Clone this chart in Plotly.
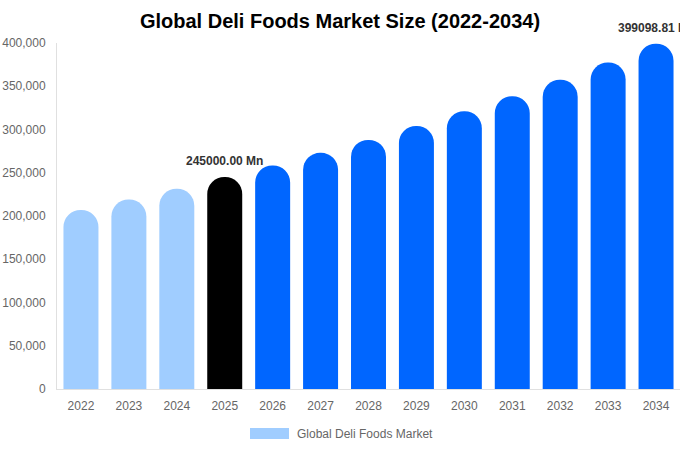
import plotly.graph_objects as go

# dati (valori in milioni)
years = ["2022", "2023", "2024", "2025", "2026", "2027", "2028",
         "2029", "2030", "2031", "2032", "2033", "2034"]
market_size = [207000, 219000, 231500, 245000, 258500, 273000, 288000,
               304000, 321000, 338500, 357500, 377500, 399098.81]
bar_colors = ["#a0cdff"] * 3 + ["#000000"] + ["#0066ff"] * 9
y_ticks = [0, 50000, 100000, 150000, 200000, 250000, 300000, 350000, 400000]

# etichette sopra le barre evidenziate
label_years = ["2025", "2034"]
label_values = [245000, 399098.81]
label_texts = ["245000.00 Mn", "399098.81 Mn"]

fig = go.Figure()

fig.add_trace(go.Bar(
    x=years,
    y=market_size,
    marker=dict(color=bar_colors, cornerradius=18, line=dict(width=0)),
    name="Global Deli Foods Market",
    showlegend=False,
    hoverinfo="x+y",
))

# sull'asse a categorie l'annotazione vuole l'indice, non "2025"
for yr, val, txt in zip(label_years, label_values, label_texts):
    fig.add_annotation(
        x=years.index(yr), y=val, text="<b>" + txt + "</b>",
        showarrow=False, yanchor="bottom", yshift=7,
        font=dict(size=12, color="#333333"),
    )

# legenda stile chart.js (riquadro + testo)
fig.add_shape(type="rect", xref="paper", yref="paper",
              x0=(250 - 57) / 623, x1=(289 - 57) / 623,
              y0=-(439 - 389) / 346, y1=-(428 - 389) / 346,
              fillcolor="#a0cdff", line=dict(width=0))
fig.add_annotation(
    xref="paper", yref="paper",
    x=(295 - 57) / 623, y=-(433.5 - 389) / 346,
    text="Global Deli Foods Market", showarrow=False,
    xanchor="left", yanchor="middle",
    font=dict(size=12, color="#666666"),
)

fig.update_layout(
    width=680,
    height=450,
    margin=dict(l=57, r=0, t=43, b=61),
    paper_bgcolor="white",
    plot_bgcolor="white",
    font=dict(family="Liberation Sans, Arial, sans-serif", color="#666666", size=12),
    title=dict(
        text="<b>Global Deli Foods Market Size (2022-2034)</b>",
        x=0.5, xanchor="center",
        y=1 - 21 / 450, yanchor="middle",
        font=dict(size=20, color="#000000"),
    ),
    bargap=0.27,
    xaxis=dict(
        type="category",
        range=[-0.5, len(years) - 0.5],
        showgrid=False,
        showline=True, linecolor="#e0e0e0", linewidth=1,
        ticks="outside", ticklen=6, tickcolor="rgba(0,0,0,0)",
        tickfont=dict(size=12, color="#666666"),
    ),
    yaxis=dict(
        range=[0, 400000],
        tickvals=y_ticks,
        tickformat=",d",
        showgrid=False,
        showline=True, linecolor="#e0e0e0", linewidth=1,
        ticks="outside", ticklen=8, tickcolor="rgba(0,0,0,0)",
        tickfont=dict(size=12, color="#666666"),
        zeroline=False,
    ),
)

# toglie il margine del body così la figura parte da (0,0)
fig.write_html("out.html", config={"displayModeBar": False},
               post_script="document.body.style.margin='0';")
